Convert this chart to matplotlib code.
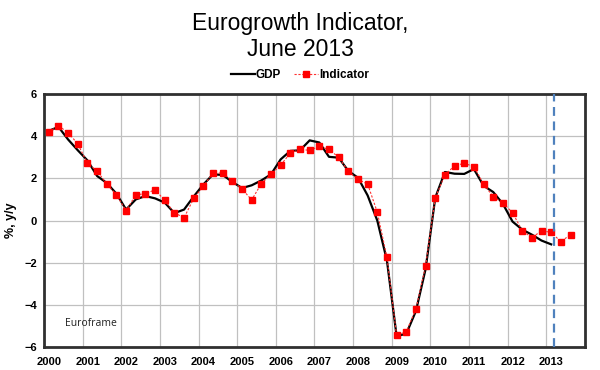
import numpy as np
import matplotlib.pyplot as plt
import matplotlib.transforms as mtransforms

# quarterly series, first quarter = 2000Q1
start_year = 2000
gdp = [4.25, 4.44, 3.84, 3.33,
       2.85, 2.11, 1.78, 1.27,
       0.52, 1.00, 1.16, 1.05,
       0.85, 0.35, 0.52, 1.14,
       1.71, 2.19, 2.16, 1.83,
       1.54, 1.67, 1.90, 2.19,
       2.90, 3.30, 3.33, 3.80,
       3.70, 3.02, 2.98, 2.35,
       2.03, 1.19, 0.00, -1.90,
       -5.48, -5.37, -4.29, -2.30,
       1.08, 2.30, 2.22, 2.21,
       2.44, 1.65, 1.35, 0.79,
       -0.05, -0.43, -0.67, -0.95,
       -1.13]
indicator = [4.20, 4.49, 4.17, 3.63,
             2.71, 2.35, 1.73, 1.22,
             0.46, 1.22, 1.27, 1.46,
             0.95, 0.37, 0.13, 1.05,
             1.63, 2.25, 2.25, 1.89,
             1.49, 0.98, 1.75, 2.19,
             2.63, 3.20, 3.37, 3.33,
             3.51, 3.37, 3.00, 2.33,
             1.95, 1.73, 0.40, -1.75,
             -5.45, -5.27, -4.20, -2.15,
             1.08, 2.16, 2.60, 2.71,
             2.56, 1.73, 1.13, 0.84,
             0.37, -0.48, -0.81, -0.49,
             -0.56, -1.00, -0.67]
years = list(range(2000, 2014))
forecast_start = 2013.2


def quarter_x(values):
    # mid-quarter positions on a year axis
    return start_year + (np.arange(len(values)) + 0.5) / 4


fig = plt.figure(figsize=(6, 3.7), dpi=100)
ax = fig.add_axes([0.0733, 0.062, 0.9017, 0.684])

ax.plot(quarter_x(gdp), gdp, color='black', lw=1.6, label='GDP', zorder=3)
ax.plot(quarter_x(indicator), indicator, color='#ff3030', lw=0.8, ls=(0, (2, 1.5)),
        marker='s', markersize=4.5, markerfacecolor='#ff0000', markeredgecolor='#ff0000',
        label='Indicator', zorder=4)
ax.axvline(forecast_start, color='#4f81bd', lw=1.6, ls=(0, (4, 2.5)), zorder=5)

ax.set_xlim(2000, 2014)
ax.set_ylim(-6, 6)
ax.set_xticks(years)
ax.set_xticklabels([str(y) for y in years])
ax.set_yticks(np.arange(-6, 7, 2))
ax.grid(True, color='#c0c0c0', lw=0.9)
ax.set_axisbelow(True)
ax.tick_params(length=0, labelsize=8, pad=5)
for lab in ax.get_xticklabels() + ax.get_yticklabels():
    lab.set_fontweight('bold')
    lab.set_fontfamily('Liberation Sans')
offset = mtransforms.ScaledTranslation(5 / 100, -3 / 100, fig.dpi_scale_trans)
for lab in ax.get_xticklabels():
    lab.set_transform(lab.get_transform() + offset)
for sp in ax.spines.values():
    sp.set_color('#303030')
    sp.set_linewidth(2)

ax.set_ylabel('%, y/y', fontsize=9, fontweight='bold', family='Liberation Sans', labelpad=5)
ax.text(0.039, 0.085, 'Euroframe', transform=ax.transAxes, fontsize=7.5,
        family='Open Sans', color='#202020')

fig.text(0.5, 0.968, 'Eurogrowth Indicator,\nJune 2013', ha='center', va='top',
         fontsize=16.5, family='Liberation Sans', linespacing=1.15)
leg = fig.legend(loc='center', bbox_to_anchor=(0.5, 0.797), ncol=2, frameon=False,
                 prop={'family': 'Liberation Sans', 'weight': 'bold', 'size': 8.5},
                 handlelength=2.0, handletextpad=0.1, columnspacing=1.1)

fig.savefig('out.png', dpi=100)
